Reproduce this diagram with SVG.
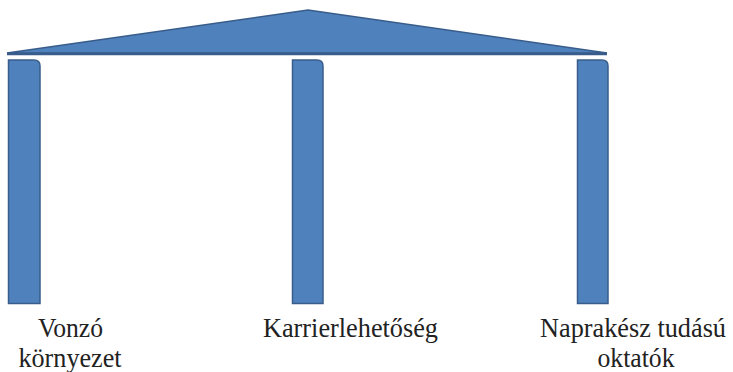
<svg xmlns="http://www.w3.org/2000/svg" width="733" height="372" viewBox="0 0 733 372">
<style>
.shape{fill:#4F81BD;stroke:#385D8A;stroke-width:1.5}
.lbl{font-family:'Liberation Serif','Times New Roman',serif;font-size:27px;fill:#222;text-anchor:middle}
</style>
<rect width="733" height="372" fill="#fff"/>
<g id="roof">
<path class="shape" d="M7,53 L308,10 L607,53 Z"/>
<line x1="7" y1="54" x2="607" y2="54" stroke="#385D8A" stroke-width="2.5"/>
</g>
<g id="pillar-left">
<path class="shape" d="M8.5,303.5 V60 H34 Q40,60 40,66 V303.5 Z"/>
<text class="lbl" x="70.5" y="337" textLength="65" lengthAdjust="spacingAndGlyphs">Vonzó</text>
<text class="lbl" x="70" y="367" textLength="103" lengthAdjust="spacingAndGlyphs">környezet</text>
</g>
<g id="pillar-middle">
<path class="shape" d="M292.5,303.5 V60 H317 Q323,60 323,66 V303.5 Z"/>
<text class="lbl" x="350.5" y="337" textLength="175" lengthAdjust="spacingAndGlyphs">Karrierlehetőség</text>
</g>
<g id="pillar-right">
<path class="shape" d="M577.5,303.5 V60 H602 Q608,60 608,66 V303.5 Z"/>
<text class="lbl" x="633" y="337" textLength="186" lengthAdjust="spacingAndGlyphs">Naprakész tudású</text>
<text class="lbl" x="636" y="367" textLength="77" lengthAdjust="spacingAndGlyphs">oktatók</text>
</g>
<g id="connectors"></g>
</svg>
